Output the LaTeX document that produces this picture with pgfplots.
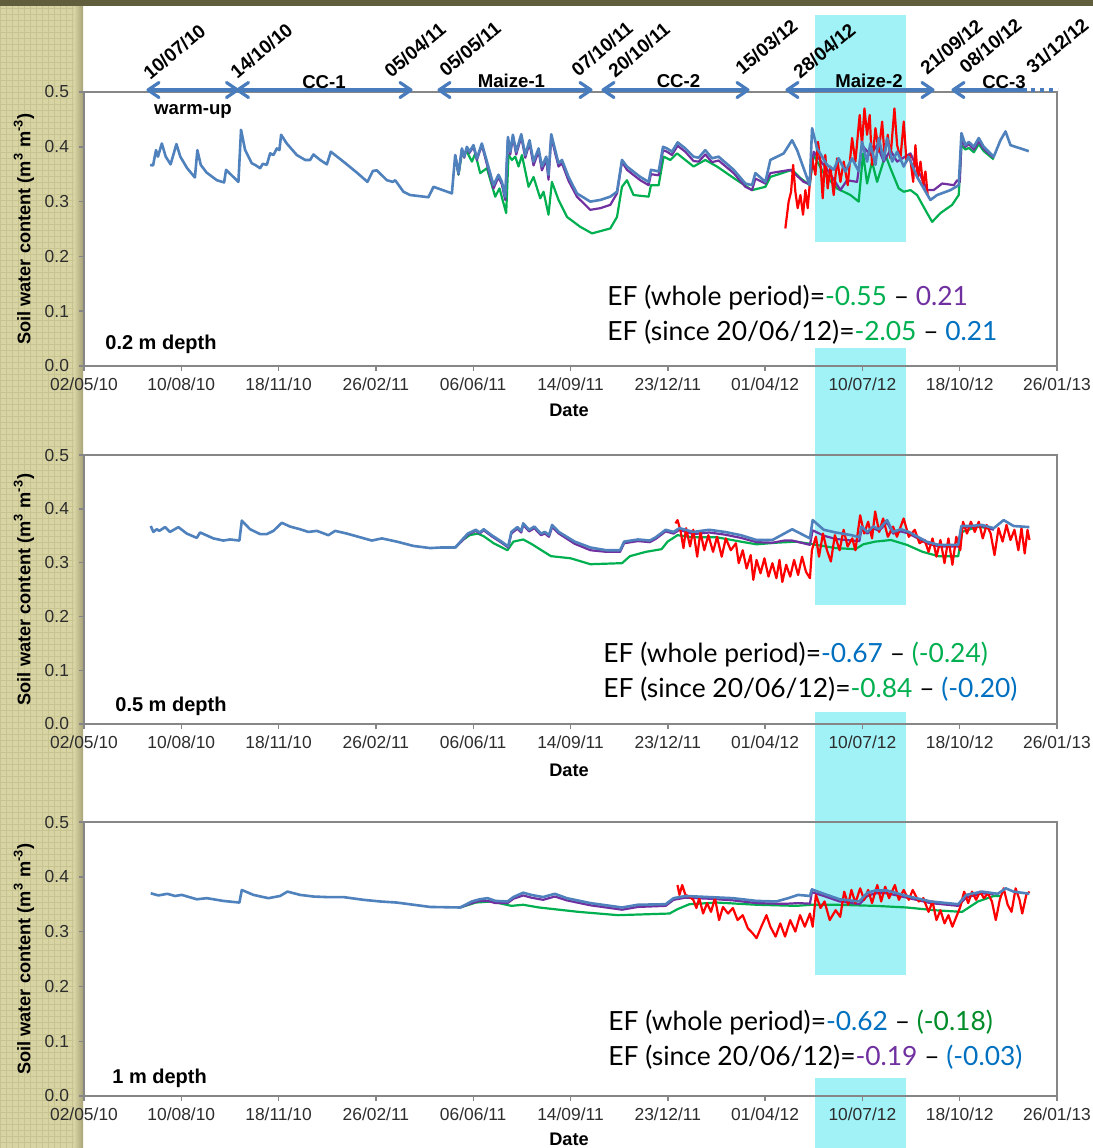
\documentclass[border=0pt]{standalone}
\usepackage{fontspec}
\setmainfont{Liberation Sans}
\newfontfamily\effont{Lato}
\usepackage{pgfplots}
\pgfplotsset{compat=1.18}
\usetikzlibrary{patterns}
\definecolor{simblue}{RGB}{79,129,189}
\definecolor{arrowblue}{RGB}{72,124,188}
\definecolor{obsred}{RGB}{255,0,0}
\definecolor{simgreen}{RGB}{0,176,80}
\definecolor{simpurple}{RGB}{112,48,160}
\definecolor{efblue}{RGB}{0,112,192}
\definecolor{efgreen}{RGB}{0,176,80}
\definecolor{efdkgreen}{RGB}{0,140,40}
\definecolor{cyanbg}{RGB}{160,242,246}
\definecolor{beige}{RGB}{216,212,164}
\definecolor{beigedark}{RGB}{200,196,146}
\definecolor{beigeshadow}{RGB}{168,164,120}
\definecolor{olive}{RGB}{97,94,62}
\definecolor{axisgrey}{RGB}{134,134,134}
\definecolor{ticktext}{RGB}{45,45,45}
\newcommand{\dlab}[3]{\node[anchor=base west, rotate=40, inner sep=0pt, font=\bfseries\fontsize{9.5}{11}\selectfont] at (#1+5,#2+3) {#3};}
\newcommand{\lhead}[1]{\draw[arrowblue, line width=1.6pt, line cap=round, line join=round] (#1+11,82.5) -- (#1,90) -- (#1+11,97.5);}
\newcommand{\rhead}[1]{\draw[arrowblue, line width=1.6pt, line cap=round, line join=round] (#1-11,82.5) -- (#1,90) -- (#1-11,97.5);}
\newcommand{\eftext}[4]{\node[anchor=base west, inner sep=0pt, font=\effont\fontsize{13.2}{16}\selectfont] at (#1,#2) {#3};
\node[anchor=base west, inner sep=0pt, font=\effont\fontsize{13.2}{16}\selectfont] at (#1,#2+35) {#4};}
\pgfplotsset{
  swc/.style={
    scale only axis, width=486.5pt,
    xmin=0, xmax=1000, ymin=0, ymax=0.5,
    axis line style={draw=axisgrey, line width=0.7pt},
    xtick={0,100,200,300,400,500,600,700,800,900,1000},
    xticklabels={02/05/10,10/08/10,18/11/10,26/02/11,06/06/11,14/09/11,23/12/11,01/04/12,10/07/12,18/10/12,26/01/13},
    ytick={0,0.1,0.2,0.3,0.4,0.5},
    /pgf/number format/.cd, fixed, fixed zerofill, precision=1, assume math mode=true, /pgfplots/.cd,
    tick label style={font=\fontsize{8.7}{10}\selectfont, text=ticktext},
    yticklabel style={xshift=-1.5pt},
    tick align=outside, major tick length=2.5pt,
    tick style={draw=axisgrey, line width=0.7pt},
    xtick pos=left, ytick pos=left,
    every axis plot/.append style={line width=1.1pt, line join=round, mark=none},
  }
}
\begin{document}
\begin{tikzpicture}
\useasboundingbox (0pt,0pt) rectangle (546.5pt,-574pt);
\clip (0pt,0pt) rectangle (546.5pt,-574pt);
\begin{scope}[x=0.5pt, y=-0.5pt]
\fill[white] (0,0) rectangle (1093,1148);
\fill[olive] (0,0) rectangle (1093,6);
\fill[beige] (0,6) rectangle (82,1148);
\fill[pattern=grid, pattern color=beigedark] (0,6) rectangle (80,1148);
\shade[left color=beige, right color=beigeshadow] (74,6) rectangle (83,1148);
% cyan band (Maize-2)
\fill[cyanbg] (815,15) rectangle (906,242);
\fill[cyanbg] (815,348) rectangle (906,605);
\fill[cyanbg] (815,712) rectangle (906,975);
\fill[cyanbg] (815,1078) rectangle (906,1148);
\end{scope}

% ---------------- 0.2 m ----------------
\begin{axis}[swc, height=137pt, at={(42pt,-46pt)}, anchor=north west]
\addplot[simgreen] coordinates {(381.5,0.383)(384.9,0.349)(388.4,0.388)(393.5,0.391)(398.7,0.373)(402.1,0.388)(407.2,0.352)(414.1,0.361)(422.6,0.309)(427,0.324)(433.9,0.279)(436.3,0.385)(439.8,0.376)(443.2,0.382)(446.6,0.364)(450.1,0.385)(456.9,0.327)(462,0.345)(468.9,0.306)(472.3,0.318)(477.4,0.276)(480.9,0.336)(487.7,0.303)(496.4,0.272)(510,0.254)(522.1,0.242)(540.9,0.251)(547.8,0.272)(552.9,0.327)(558,0.339)(564.8,0.312)(580.3,0.309)(582.7,0.330)(590.6,0.330)(595.7,0.382)(602.6,0.376)(609.5,0.388)(626.5,0.364)(638.5,0.376)(650.6,0.364)(667.7,0.343)(686.6,0.321)(700.3,0.327)(705.4,0.345)(727.7,0.358)(736.3,0.343)(745.8,0.330)(749.9,0.385)(760.2,0.352)(773.9,0.324)(787.7,0.312)(796.2,0.300)(800.7,0.388)(804.8,0.333)(809.9,0.373)(815.1,0.336)(823.7,0.385)(828.8,0.361)(837.3,0.324)(842.5,0.318)(849.4,0.321)(856.2,0.312)(866.5,0.279)(871.7,0.263)(880.2,0.279)(892.2,0.294)(899,0.312)(901.8,0.403)(905.9,0.395)(909.3,0.398)(914.5,0.390)(919.6,0.405)(924.7,0.392)(935,0.377)};
\addplot[simpurple] coordinates {(381.5,0.385)(384.9,0.350)(388.4,0.395)(390.8,0.380)(393.5,0.398)(396.2,0.389)(400.3,0.400)(403.8,0.376)(408.9,0.403)(414.1,0.368)(420.9,0.324)(426,0.345)(429.5,0.331)(432.9,0.303)(435.7,0.413)(438.1,0.386)(440.8,0.418)(444.2,0.386)(449.4,0.418)(453.5,0.380)(457.9,0.407)(462,0.366)(467.2,0.392)(470.6,0.357)(475.1,0.376)(477.4,0.340)(480.2,0.418)(484.3,0.388)(487.7,0.364)(491.2,0.370)(498,0.338)(506.6,0.309)(520.3,0.285)(530.6,0.288)(540.9,0.294)(547.8,0.315)(552.9,0.373)(558,0.358)(571.7,0.339)(580.3,0.330)(582.7,0.350)(590.6,0.348)(595.1,0.394)(599.2,0.391)(604.3,0.385)(610.1,0.402)(618,0.391)(626.5,0.374)(631.7,0.373)(638.5,0.386)(645.5,0.372)(652.2,0.375)(667.7,0.352)(679.7,0.327)(686.6,0.321)(690,0.342)(700.3,0.333)(705.4,0.352)(726,0.358)(739.6,0.336)(745.8,0.332)(749.9,0.391)(765.3,0.355)(777.4,0.321)(784.2,0.339)(794.5,0.336)(799.6,0.403)(808.2,0.385)(815.1,0.403)(821.9,0.373)(828.8,0.394)(835.7,0.373)(849.4,0.388)(856.2,0.361)(866.5,0.321)(873.3,0.321)(882,0.333)(893.9,0.330)(897.4,0.339)(900.1,0.336)(901.8,0.412)(905.9,0.400)(909.3,0.405)(914.5,0.395)(919.6,0.410)(924.7,0.396)(935,0.380)};
\addplot[obsred] coordinates {(720.8,0.251)(724.2,0.300)(726.7,0.318)(728.8,0.367)(731.1,0.318)(733.5,0.288)(736.3,0.312)(739,0.276)(741.4,0.321)(743.8,0.288)(745.8,0.330)(748.3,0.379)(751.7,0.349)(754.4,0.409)(756.8,0.373)(759.2,0.306)(761.9,0.385)(764.3,0.324)(767.1,0.364)(770.5,0.312)(774,0.379)(777.4,0.336)(780.8,0.373)(784.9,0.330)(789.4,0.416)(792.8,0.373)(797.2,0.458)(799.6,0.403)(802.1,0.470)(804.8,0.422)(807.5,0.458)(809.9,0.367)(813.4,0.434)(816.8,0.391)(820.3,0.446)(822.7,0.385)(826.1,0.422)(828.8,0.379)(832.9,0.470)(835.7,0.403)(839.1,0.379)(842.5,0.446)(845.3,0.373)(848.7,0.385)(852.2,0.336)(854.5,0.403)(856.9,0.343)(859.7,0.373)(862.4,0.330)(864.8,0.355)(867.1,0.312)};
\addplot[simblue, line width=1.3pt] coordinates {(68,0.367)(71,0.366)(74,0.394)(76,0.382)(80,0.406)(84,0.382)(89,0.368)(95,0.405)(99,0.382)(106,0.361)(114,0.344)(116.5,0.394)(120,0.367)(126,0.353)(136.5,0.339)(144,0.335)(146,0.358)(158.7,0.336)(161.4,0.431)(165.6,0.394)(172.4,0.370)(175.8,0.367)(181,0.361)(183.8,0.369)(187.9,0.367)(191.3,0.388)(194.7,0.385)(198.2,0.397)(200.8,0.394)(202.6,0.422)(208.4,0.406)(218.7,0.385)(227.3,0.376)(232.4,0.376)(235.8,0.386)(242.7,0.376)(249.6,0.368)(253.7,0.391)(266.6,0.373)(280.4,0.353)(291.3,0.336)(296.9,0.356)(301,0.357)(311.3,0.339)(317.4,0.336)(319.8,0.339)(328.3,0.318)(335.2,0.312)(354,0.308)(359.2,0.327)(378.1,0.315)(381.5,0.385)(384.9,0.352)(388.4,0.397)(390.8,0.382)(393.5,0.400)(396.2,0.391)(400.3,0.403)(403.8,0.379)(408.9,0.406)(414.1,0.373)(420.9,0.330)(426,0.349)(429.5,0.336)(432.9,0.309)(435.7,0.418)(438.1,0.391)(440.8,0.422)(444.2,0.391)(449.4,0.423)(453.5,0.385)(457.9,0.412)(462,0.373)(467.2,0.397)(470.6,0.364)(475.1,0.382)(477.4,0.349)(480.2,0.423)(484.3,0.394)(487.7,0.370)(491.2,0.376)(498,0.345)(506.6,0.315)(520.3,0.300)(530.6,0.303)(540.9,0.309)(547.8,0.318)(552.9,0.376)(558,0.364)(571.7,0.345)(580.3,0.336)(582.7,0.358)(590.6,0.355)(595.1,0.400)(599.2,0.397)(604.3,0.391)(610.1,0.408)(618,0.397)(626.5,0.382)(631.7,0.380)(638.5,0.394)(645.5,0.379)(652.2,0.382)(667.7,0.358)(679.7,0.333)(686.6,0.330)(690,0.352)(700.3,0.336)(705.4,0.376)(712.3,0.382)(719.1,0.388)(727.7,0.412)(732.9,0.394)(745.8,0.330)(748.3,0.434)(753.4,0.397)(763.7,0.367)(770.5,0.358)(775.6,0.379)(782.5,0.355)(789.4,0.379)(796.2,0.355)(799.6,0.409)(804.8,0.373)(808.2,0.406)(813.4,0.367)(816.8,0.416)(821.9,0.376)(825.4,0.416)(830.6,0.373)(835.7,0.391)(842.5,0.364)(847.6,0.382)(856.2,0.345)(869.9,0.303)(876.8,0.312)(890.5,0.321)(899,0.330)(901.8,0.425)(905.9,0.403)(909.3,0.409)(914.5,0.400)(919.6,0.416)(924.7,0.400)(935,0.382)(941.9,0.412)(947.1,0.428)(952.2,0.403)(962.5,0.397)(971,0.392)};
\end{axis}

% ---------------- 0.5 m ----------------
\begin{axis}[swc, height=134.5pt, at={(42pt,-227.5pt)}, anchor=north west]
\addplot[simgreen] coordinates {(381.9,0.328)(388.4,0.341)(396.5,0.351)(404.6,0.354)(410.8,0.349)(421,0.336)(435.2,0.323)(441.3,0.339)(451.4,0.343)(459.6,0.335)(479.9,0.312)(500.2,0.308)(520.5,0.297)(553,0.299)(561.1,0.312)(577.4,0.320)(593.6,0.325)(599.8,0.339)(610,0.351)(626.2,0.347)(650.6,0.347)(675,0.339)(691.2,0.334)(711.6,0.337)(731.8,0.339)(746.1,0.335)(772.5,0.327)(792.8,0.325)(800.9,0.334)(813.1,0.339)(829.3,0.342)(845.7,0.333)(861.9,0.320)(878.2,0.312)(898.5,0.312)(902.5,0.357)(918.8,0.367)(935,0.362)};
\addplot[simpurple] coordinates {(381.5,0.328)(388.4,0.340)(394.5,0.352)(402.7,0.359)(406.7,0.354)(410.8,0.360)(418.9,0.349)(429.1,0.337)(436,0.328)(439.2,0.354)(445.4,0.363)(449.4,0.356)(451.4,0.370)(457.5,0.358)(462.8,0.364)(469.7,0.351)(473.7,0.354)(477.9,0.348)(481.1,0.366)(488,0.354)(504.3,0.335)(520.5,0.323)(536.8,0.320)(551,0.320)(555.1,0.336)(569.3,0.340)(581.5,0.338)(587.6,0.344)(597.8,0.358)(605.9,0.354)(612,0.361)(626.2,0.353)(642.5,0.356)(658.7,0.352)(675,0.346)(691.2,0.338)(707.5,0.337)(719.7,0.341)(727.8,0.341)(746.1,0.333)(748.9,0.360)(760.3,0.350)(772.5,0.344)(788.8,0.341)(796.9,0.340)(799,0.362)(805.1,0.354)(811.1,0.364)(817.2,0.359)(825.3,0.375)(831.5,0.354)(839.6,0.358)(847.7,0.354)(866,0.336)(878.2,0.330)(898.5,0.330)(901.7,0.365)(910.7,0.366)(922.8,0.368)(935,0.361)};
\addplot[obsred] coordinates {(607.9,0.373)(610,0.379)(612.9,0.361)(616.1,0.327)(618.8,0.364)(622.9,0.330)(626.2,0.361)(630.2,0.311)(633.5,0.357)(637.5,0.323)(641.7,0.351)(646.5,0.320)(650.6,0.348)(655.4,0.311)(659.6,0.345)(664.8,0.323)(670,0.336)(672.9,0.299)(677,0.323)(681,0.289)(685.2,0.314)(687.9,0.268)(691.2,0.305)(695.3,0.280)(699.3,0.308)(703.5,0.274)(707.5,0.299)(711.6,0.271)(714.8,0.305)(717.7,0.264)(721.7,0.296)(725.8,0.274)(729.8,0.305)(733.9,0.277)(738,0.311)(742,0.283)(746.1,0.271)(748.1,0.323)(752.2,0.348)(755.4,0.311)(759.5,0.354)(763.6,0.323)(767.6,0.302)(771.7,0.351)(776.6,0.323)(780.7,0.361)(784.8,0.330)(789.6,0.345)(792.8,0.323)(797.7,0.388)(801.8,0.354)(805.9,0.376)(809.9,0.345)(813.1,0.395)(817.2,0.357)(821.3,0.382)(826.2,0.348)(831.5,0.367)(835.5,0.348)(842.4,0.382)(847.7,0.348)(853.8,0.361)(858.7,0.336)(864,0.342)(868,0.320)(872.1,0.345)(876.1,0.311)(880.2,0.342)(884.4,0.299)(888.4,0.345)(892.5,0.296)(896.5,0.348)(900.6,0.323)(903.4,0.376)(907.5,0.354)(911.5,0.376)(915.5,0.357)(919.6,0.376)(923.7,0.345)(927.7,0.370)(931.8,0.354)(935.8,0.314)(939.9,0.364)(944.1,0.339)(948.1,0.370)(952.2,0.342)(956.3,0.361)(960.3,0.323)(963.5,0.364)(966.8,0.317)(969.7,0.361)(971.7,0.342)};
\addplot[simblue, line width=1.3pt] coordinates {(68.6,0.368)(71.3,0.357)(74.8,0.362)(77.4,0.359)(83.3,0.366)(88.4,0.357)(97,0.366)(105.6,0.354)(115.9,0.346)(119.3,0.356)(133,0.345)(143.2,0.341)(150.1,0.343)(159.7,0.341)(162.2,0.378)(170.7,0.362)(181,0.353)(187.9,0.353)(194.7,0.359)(203.3,0.374)(211.8,0.367)(222.1,0.362)(230.6,0.357)(239.3,0.359)(251.2,0.351)(258.1,0.359)(270.1,0.354)(295.8,0.341)(306.1,0.345)(321.5,0.339)(338.6,0.331)(355.8,0.327)(366.1,0.328)(381.5,0.328)(388.4,0.342)(394.5,0.354)(402.7,0.361)(406.7,0.356)(410.8,0.362)(418.9,0.351)(429.1,0.339)(436,0.330)(439.2,0.357)(445.4,0.366)(449.4,0.359)(451.4,0.373)(457.5,0.361)(462.8,0.367)(469.7,0.354)(473.7,0.357)(477.9,0.351)(481.1,0.370)(488,0.357)(504.3,0.339)(520.5,0.328)(536.8,0.323)(551,0.323)(555.1,0.339)(569.3,0.343)(581.5,0.341)(587.6,0.347)(597.8,0.361)(605.9,0.357)(612,0.364)(626.2,0.357)(642.5,0.361)(658.7,0.357)(675,0.351)(691.2,0.342)(707.5,0.342)(719.7,0.354)(727.8,0.362)(746.1,0.345)(748.9,0.379)(760.3,0.361)(772.5,0.356)(788.8,0.351)(796.9,0.347)(799,0.367)(805.1,0.357)(811.1,0.367)(817.2,0.362)(825.3,0.379)(831.5,0.357)(839.6,0.362)(847.7,0.357)(866,0.339)(878.2,0.333)(898.5,0.333)(901.7,0.368)(910.7,0.368)(922.8,0.370)(935,0.364)(945.2,0.379)(955.4,0.368)(971.6,0.366)};
\end{axis}

% ---------------- 1 m ----------------
\begin{axis}[swc, height=137pt, at={(42pt,-411pt)}, anchor=north west]
\addplot[simgreen] coordinates {(386.6,0.344)(402.7,0.353)(418.9,0.355)(439.2,0.347)(451.4,0.349)(467.7,0.344)(508.3,0.336)(548.9,0.330)(601.8,0.333)(610,0.341)(622.2,0.350)(650.6,0.353)(691.2,0.349)(731.8,0.347)(748.1,0.349)(772.5,0.349)(813.2,0.347)(845.7,0.344)(874.2,0.339)(902.5,0.336)(918.8,0.355)(935,0.365)(943.2,0.365)};
\addplot[simpurple] coordinates {(386.6,0.344)(398.6,0.352)(406.7,0.356)(414.8,0.356)(422.9,0.352)(435.2,0.352)(441.3,0.360)(451.4,0.366)(459.6,0.362)(471.8,0.358)(483.9,0.364)(496.2,0.357)(520.5,0.348)(553,0.340)(569.3,0.345)(597.8,0.347)(605.9,0.358)(618.1,0.362)(642.5,0.360)(666.9,0.357)(691.2,0.352)(711.6,0.351)(723.7,0.351)(733.9,0.352)(746.1,0.351)(748.1,0.372)(760.3,0.365)(776.6,0.355)(796.9,0.350)(805.1,0.365)(813.2,0.370)(825.3,0.370)(845.7,0.362)(870.1,0.352)(898.5,0.347)(906.6,0.362)(922.9,0.370)(935,0.368)};
\addplot[obsred] coordinates {(610,0.385)(612,0.367)(614.8,0.385)(618.1,0.367)(622.1,0.364)(626.2,0.358)(629.4,0.343)(632.3,0.361)(636.3,0.333)(640.4,0.352)(644.4,0.336)(648.5,0.361)(652.7,0.321)(656.7,0.345)(661.9,0.333)(666.9,0.343)(671.7,0.321)(677,0.330)(682.3,0.306)(687.2,0.297)(691.2,0.288)(696.1,0.309)(701.4,0.330)(705.4,0.309)(710.8,0.291)(715.6,0.315)(720.5,0.291)(725.8,0.321)(731.1,0.300)(735.9,0.330)(740.8,0.309)(746.1,0.333)(748.9,0.309)(752.2,0.367)(757,0.343)(761.1,0.355)(766.4,0.321)(772.5,0.339)(777.2,0.327)(781.3,0.373)(785.4,0.349)(788.7,0.376)(792.8,0.352)(797.7,0.379)(801.8,0.358)(805.9,0.376)(809.9,0.352)(815.3,0.385)(819.3,0.355)(823.4,0.382)(827.4,0.361)(833.4,0.385)(837.5,0.358)(842.4,0.376)(847.7,0.358)(851.7,0.376)(857.9,0.355)(862.7,0.361)(868,0.336)(872.1,0.355)(876.1,0.321)(880.2,0.339)(884.4,0.315)(888.4,0.330)(892.5,0.309)(896.5,0.327)(900.6,0.345)(904.6,0.373)(908.7,0.352)(912.7,0.373)(916.8,0.358)(920.9,0.373)(924.9,0.361)(929,0.370)(933.1,0.355)(937.1,0.321)(941.2,0.358)(945.2,0.379)(949.3,0.349)(953.3,0.336)(957.5,0.379)(961.5,0.358)(964.3,0.333)(968.4,0.367)(971.7,0.373)};
\addplot[simblue, line width=1.3pt] coordinates {(68.6,0.370)(76.4,0.366)(85.7,0.369)(93.6,0.365)(100.5,0.367)(115.9,0.359)(126.2,0.361)(143.2,0.356)(159.7,0.353)(162.2,0.376)(174.1,0.367)(189.5,0.361)(201.5,0.365)(209.1,0.373)(222.1,0.367)(235.8,0.364)(249.6,0.363)(266.6,0.363)(287.2,0.358)(304.4,0.355)(321.5,0.353)(338.6,0.349)(355.8,0.345)(386.6,0.344)(398.6,0.355)(406.7,0.359)(414.8,0.361)(422.9,0.356)(435.2,0.355)(441.3,0.363)(451.4,0.371)(459.6,0.367)(471.8,0.363)(483.9,0.369)(496.2,0.361)(520.5,0.352)(553,0.344)(569.3,0.349)(597.8,0.350)(605.9,0.361)(618.1,0.365)(642.5,0.363)(666.9,0.361)(691.2,0.356)(711.6,0.355)(723.7,0.361)(733.9,0.367)(746.1,0.365)(748.1,0.377)(760.3,0.369)(776.6,0.359)(796.9,0.355)(805.1,0.371)(813.2,0.375)(825.3,0.375)(845.7,0.365)(870.1,0.355)(898.5,0.350)(906.6,0.367)(922.9,0.373)(939.1,0.369)(947.3,0.379)(955.4,0.373)(971.6,0.369)};
\end{axis}

\begin{scope}[x=0.5pt, y=-0.5pt]
% ---------------- header: crop periods ----------------
\draw[arrowblue, line width=1.6pt] (148,90) -- (237.5,90);
\lhead{148} \rhead{237.5}
\draw[arrowblue, line width=1.6pt] (237.5,90) -- (411,90);
\lhead{237.5} \rhead{411}
\draw[arrowblue, line width=1.6pt] (439,90) -- (591,90);
\lhead{439} \rhead{591}
\draw[arrowblue, line width=1.6pt] (603,90) -- (748,90);
\lhead{603} \rhead{748}
\draw[arrowblue, line width=1.6pt] (787,90) -- (933,90);
\lhead{787} \rhead{933}
\draw[arrowblue, line width=1.6pt] (953,90) -- (1027,90);
\lhead{953}
\draw[arrowblue, line width=1.6pt, dash pattern=on 2pt off 2.5pt] (1031,90) -- (1058,90);

\dlab{145}{78}{10/07/10}
\dlab{232}{77}{14/10/10}
\dlab{386}{76}{05/04/11}
\dlab{441}{75}{05/05/11}
\dlab{573}{75}{07/10/11}
\dlab{610}{76}{20/10/11}
\dlab{737}{73}{15/03/12}
\dlab{795}{77}{28/04/12}
\dlab{922}{73}{21/09/12}
\dlab{961}{72}{08/10/12}
\dlab{1028}{72}{31/12/12}

\begin{scope}[every node/.style={anchor=base, inner sep=0pt, font=\bfseries\fontsize{9.3}{11}\selectfont}]
\node at (324,88) {CC-1};
\node at (511.5,87) {Maize-1};
\node at (678.5,87) {CC-2};
\node at (869,87) {Maize-2};
\node at (1004,88) {CC-3};
\node at (193,114) {warm-up};
\end{scope}

% ---------------- panel labels ----------------
\begin{scope}[every node/.style={inner sep=0pt, font=\bfseries\fontsize{9.1}{11}\selectfont}]
\node[rotate=90] at (24,229) {Soil water content (m\textsuperscript{3} m\textsuperscript{-3})};
\node[rotate=90] at (24,589.5) {Soil water content (m\textsuperscript{3} m\textsuperscript{-3})};
\node[rotate=90] at (24,959) {Soil water content (m\textsuperscript{3} m\textsuperscript{-3})};
\node at (569,410) {Date};
\node at (569,770) {Date};
\node at (569,1139) {Date};
\end{scope}
\begin{scope}[every node/.style={anchor=west, inner sep=0pt, font=\bfseries\fontsize{10}{12}\selectfont}]
\node at (105,344) {0.2 m depth};
\node at (115,706) {0.5 m depth};
\node at (112,1078) {1 m depth};
\end{scope}

% ---------------- EF annotations ----------------
\eftext{607}{305}{EF (whole period)=\textcolor{efgreen}{-0.55} – \textcolor{simpurple}{0.21}}{EF (since 20/06/12)=\textcolor{efgreen}{-2.05} – \textcolor{efblue}{0.21}}
\eftext{603}{662}{EF (whole period)=\textcolor{efblue}{-0.67} – \textcolor{efgreen}{(-0.24)}}{EF (since 20/06/12)=\textcolor{efgreen}{-0.84} – \textcolor{efblue}{(-0.20)}}
\eftext{608}{1030}{EF (whole period)=\textcolor{efblue}{-0.62} – \textcolor{efdkgreen}{(-0.18)}}{EF (since 20/06/12)=\textcolor{simpurple}{-0.19} – \textcolor{efblue}{(-0.03)}}
\end{scope}
\end{tikzpicture}
\end{document}
